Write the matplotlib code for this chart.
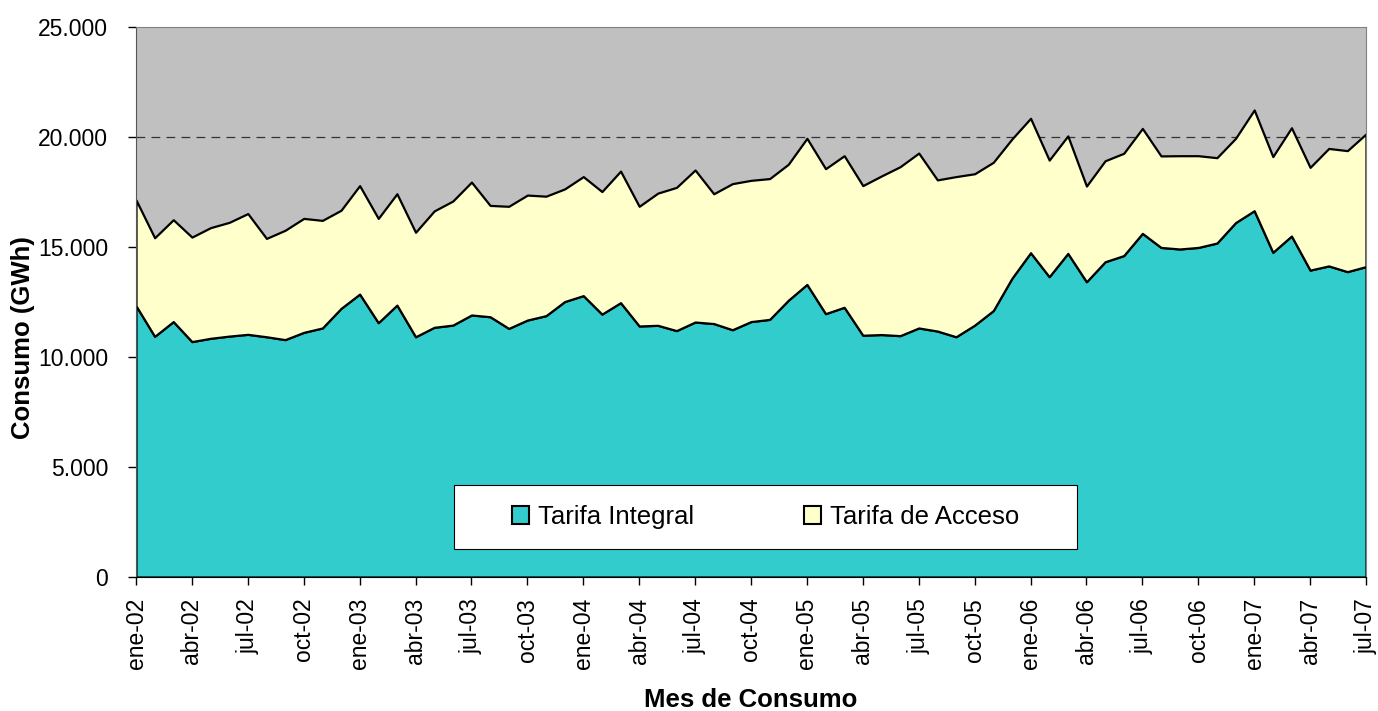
import numpy as np
import matplotlib
matplotlib.use("Agg")
import matplotlib.pyplot as plt
from matplotlib.patches import Patch, Rectangle
from matplotlib.ticker import FuncFormatter

plt.rcParams['font.family'] = ['Liberation Sans', 'DejaVu Sans']

# Consumo mensual (GWh), ene-02 .. jul-07
tarifa_integral = [
    12330, 10940, 11610, 10700, 10850, 10950, 11030, 10920, 10790, 11120, 11320, 12210,
    12860, 11560, 12360, 10920, 11350, 11450, 11910, 11830, 11300, 11680, 11880, 12520,
    12790, 11950, 12470, 11410, 11440, 11200, 11590, 11520, 11240, 11610, 11710, 12580,
    13300, 11970, 12260, 10990, 11020, 10970, 11320, 11180, 10920, 11450, 12110, 13580,
    14740, 13650, 14710, 13420, 14330, 14610, 15620, 14980, 14910, 14980, 15180, 16110,
    16650, 14760, 15500, 13950, 14140, 13880, 14110,
]
tarifa_acceso = [
    4810, 4480, 4630, 4750, 5030, 5170, 5490, 4470, 4970, 5180, 4890, 4460,
    4930, 4740, 5060, 4750, 5290, 5640, 6040, 5060, 5550, 5680, 5430, 5120,
    5410, 5570, 5980, 5440, 6010, 6510, 6910, 5900, 6640, 6420, 6400, 6180,
    6640, 6590, 6890, 6800, 7210, 7680, 7950, 6870, 7280, 6880, 6740, 6330,
    6110, 5300, 5340, 4350, 4590, 4650, 4770, 4160, 4240, 4170, 3880, 3830,
    4580, 4350, 4920, 4670, 5340, 5500, 6030,
]
tick_labels = [
    'ene-02', 'abr-02', 'jul-02', 'oct-02', 'ene-03', 'abr-03', 'jul-03', 'oct-03',
    'ene-04', 'abr-04', 'jul-04', 'oct-04', 'ene-05', 'abr-05', 'jul-05', 'oct-05',
    'ene-06', 'abr-06', 'jul-06', 'oct-06', 'ene-07', 'abr-07', 'jul-07',
]
series_names = ['Tarifa Integral', 'Tarifa de Acceso']
series_colors = ['#33CCCC', '#FFFFCC']

months = np.arange(len(tarifa_integral))

fig = plt.figure(figsize=(13.78, 7.11), dpi=100)
ax = fig.add_axes([136 / 1378, 1 - 577 / 711, 1230 / 1378, 550 / 711])
ax.set_facecolor('#C0C0C0')

ax.stackplot(months, tarifa_integral, tarifa_acceso, colors=series_colors,
             edgecolor='black', linewidth=1.6, zorder=2)
ax.axhline(20000, color='#333333', linewidth=0.9, dashes=(7, 5), zorder=1)

ax.set_xlim(0, len(months) - 1)
ax.set_ylim(0, 25000)
ax.set_yticks(np.arange(0, 25001, 5000))
ax.yaxis.set_major_formatter(FuncFormatter(lambda v, p: f"{int(v):,}".replace(',', '.')))
ax.set_xticks(months[::3])
ax.set_xticklabels(tick_labels, rotation=90)

ax.tick_params(axis='y', direction='out', length=6, width=1, labelsize=16.5, pad=14)
ax.tick_params(axis='x', direction='out', length=6, width=1, labelsize=16.5, pad=9)

for side in ['top', 'right']:
    ax.spines[side].set_color('#808080')
ax.spines['left'].set_color('#555555')
ax.spines['bottom'].set_color('black')

ax.set_ylabel('Consumo (GWh)', fontsize=18.5, fontweight='bold', va='center')
ax.yaxis.set_label_coords(-0.0919, 0.4345)
ax.set_xlabel('Mes de Consumo', fontsize=18.5, fontweight='bold', va='center')
ax.xaxis.set_label_coords(0.5, -0.2236)

# legend box
ax.add_patch(Rectangle((0.2585, 0.0509), 0.5065, 0.1164, transform=ax.transAxes,
                       facecolor='white', edgecolor='black', linewidth=0.8, zorder=4))
handles = [Patch(facecolor=c, edgecolor='black', linewidth=1.5) for c in series_colors]
ax.legend(handles, series_names, loc='center', bbox_to_anchor=(0.5118, 0.109),
          ncol=2, frameon=False, fontsize=18.5, handlelength=0.65, handleheight=0.65,
          handletextpad=0.35, columnspacing=4.3)

plt.savefig('out.png', dpi=100)
